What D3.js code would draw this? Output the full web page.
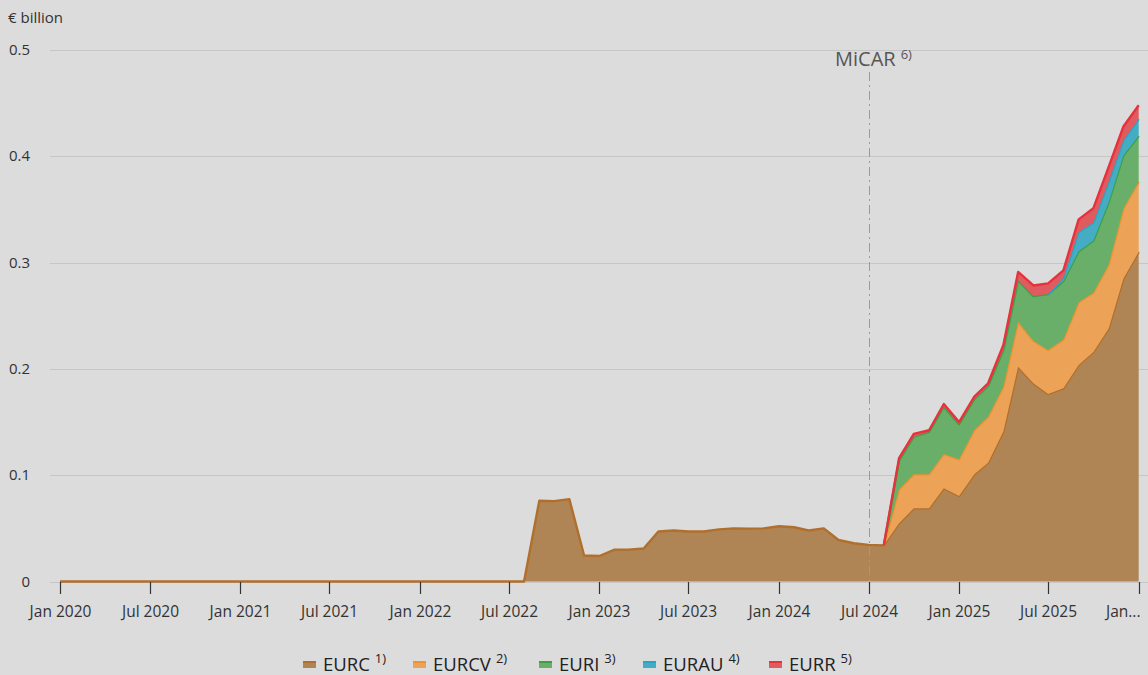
<!DOCTYPE html>
<html>
<head>
<meta charset="utf-8">
<script src="https://cdn.jsdelivr.net/npm/d3@7"></script>
<style>
  html, body { margin: 0; padding: 0; background: #dcdcdc; }
  svg { display: block; font-family: "Open Sans", "Noto Sans", sans-serif; }
</style>
</head>
<body>
<svg id="chart" width="1148" height="675"></svg>
<script>
// ---------- data (€ billion, monthly, first of month) ----------
const startMonth = "2020-01";
const endMonth = "2026-01";

const EURC = [
  0,0,0,0,0,0,0,0,0,0,0,0,                                   // 2020
  0,0,0,0,0,0,0,0,0,0,0,0,                                   // 2021
  0,0,0,0,0,0,0,0,0.076,0.0756,0.0775,0.0245,                // 2022
  0.024,0.030,0.030,0.031,0.047,0.048,0.047,0.047,0.049,0.050,0.0497,0.050, // 2023
  0.052,0.051,0.048,0.050,0.039,0.036,0.0345,0.034,0.0547,0.0688,0.0688,0.0877, // 2024
  0.0804,0.1008,0.1118,0.141,0.202,0.1865,0.1764,0.1817,0.2037,0.216,0.238,0.285, // 2025
  0.310                                                      // 2026
];
const EURCVStart = "2024-08";
const EURCV = [0,0.032,0.032,0.032,0.0323,0.0346,0.0417,0.0432,0.0423,0.0424,0.040,0.0414,0.046,0.059,0.0557,0.060,0.066,0.066];
const EURIStart = "2024-08";
const EURI = [0,0.027,0.0354,0.040,0.0444,0.033,0.029,0.029,0.0345,0.039,0.042,0.0526,0.055,0.048,0.049,0.059,0.050,0.043];
const EURAUStart = "2025-07";
const EURAU = [0,0.003,0.018,0.017,0.019,0.014,0.016];
const EURRStart = "2024-08";
const EURR = [0,0.0023,0.0026,0.0015,0.0026,0.002,0.0025,0.0025,0.0047,0.0078,0.010,0.010,0.007,0.012,0.0135,0.014,0.013,0.013];

const seriesNames = ["EURC","EURCV","EURI","EURAU","EURR"];
const seriesNotes = ["1)","2)","3)","4)","5)"];
const yTicks = [0,0.1,0.2,0.3,0.4,0.5];
const yTickLabels = ["0","0.1","0.2","0.3","0.4","0.5"];
const xTickLabels = ["Jan 2020","Jul 2020","Jan 2021","Jul 2021","Jan 2022","Jul 2022","Jan 2023","Jul 2023","Jan 2024","Jul 2024","Jan 2025","Jul 2025","Jan..."];
const xTickDates = ["2020-01","2020-07","2021-01","2021-07","2022-01","2022-07","2023-01","2023-07","2024-01","2024-07","2025-01","2025-07","2026-01"];
const yUnit = "€ billion";
const eventDate = "2024-07";
const eventLabel = "MiCAR";
const eventNote = "6)";

// ---------- styles ----------
const fills   = ["#b08555","#eca257","#6aaf69","#45adc3","#e05b60"];
const strokes = ["#b06f2c","#f0922f","#3e9f45","#27a5c6","#e6323c"];

const parse = d3.timeParse("%Y-%m");
const months = d3.timeMonth.range(parse(startMonth), d3.timeMonth.offset(parse(endMonth), 1));

const raw = { EURC: {start: startMonth, vals: EURC}, EURCV: {start: EURCVStart, vals: EURCV},
              EURI: {start: EURIStart, vals: EURI}, EURAU: {start: EURAUStart, vals: EURAU},
              EURR: {start: EURRStart, vals: EURR} };

const table = months.map((m, i) => {
  const row = { date: m };
  seriesNames.forEach(k => {
    const off = d3.timeMonth.count(parse(raw[k].start), m);
    row[k] = (off >= 0 && off < raw[k].vals.length) ? raw[k].vals[off] : null;
  });
  return row;
});

const svg = d3.select("#chart");
const x = d3.scaleTime().domain([parse(startMonth), parse(endMonth)]).range([60, 1138.7]);
const y = d3.scaleLinear().domain([0, 0.5]).range([581.5, 50]);

// gridlines
svg.append("g").selectAll("line").data(yTicks).join("line")
  .attr("x1", 50).attr("x2", 1148)
  .attr("y1", d => Math.round(y(d)) + 0.5).attr("y2", d => Math.round(y(d)) + 0.5)
  .attr("stroke", "#c6c6c6").attr("stroke-width", 1);

// y labels
svg.append("g").selectAll("text").data(yTicks).join("text")
  .attr("x", 30).attr("y", d => y(d)).attr("dy", "0.34em")
  .attr("text-anchor", "end").attr("font-size", 15).attr("fill", "#333")
  .text((d, i) => yTickLabels[i]);

svg.append("text").attr("x", 8).attr("y", 23).attr("font-size", 15).attr("fill", "#333").text(yUnit);

// stack
const stack = d3.stack().keys(seriesNames).value((d, k) => d[k] == null ? 0 : d[k]);
const layers = stack(table);

const gSeries = svg.append("g");
layers.forEach((layer, li) => {
  const key = layer.key;
  const defined = (d, i) => table[i][key] != null;
  const area = d3.area().defined(defined)
    .x((d, i) => x(table[i].date)).y0(d => y(d[0])).y1(d => y(d[1]));
  const line = d3.line().defined(defined)
    .x((d, i) => x(table[i].date)).y(d => y(d[1]));
  gSeries.append("path").attr("d", area(layer)).attr("fill", fills[li]);
  gSeries.append("path").attr("d", line(layer)).attr("fill", "none")
    .attr("stroke", strokes[li]).attr("stroke-width", 2.4).attr("stroke-linejoin", "round");
});

// x axis ticks and labels
const gx = svg.append("g");
xTickDates.forEach((d, i) => {
  const px = Math.round(x(parse(d))) + 0.5;
  gx.append("line").attr("x1", px).attr("x2", px).attr("y1", 582).attr("y2", 594)
    .attr("stroke", "#333").attr("stroke-width", 1.2);
  const last = i === xTickDates.length - 1;
  gx.append("text").attr("x", last ? px + 1 : px).attr("y", 617)
    .attr("text-anchor", last ? "end" : "middle")
    .attr("font-size", 15.5).attr("fill", "#333").text(xTickLabels[i]);
});

// event marker
const ex = Math.round(x(parse(eventDate))) + 0.5;
svg.append("line").attr("x1", ex).attr("x2", ex).attr("y1", 72).attr("y2", 581)
  .attr("stroke", "#9a9a9a").attr("stroke-width", 1).attr("stroke-dasharray", "9,4,2,4");
const et = svg.append("text").attr("x", 835).attr("y", 66).attr("font-size", 20).attr("fill", "#555");
et.append("tspan").text(eventLabel);
et.append("tspan").attr("dx", 5).attr("dy", -7).attr("font-size", 13).text(eventNote);

// legend
const legendX = [303, 413, 539, 643, 769];
const gl = svg.append("g");
seriesNames.forEach((k, i) => {
  const lx = legendX[i];
  gl.append("rect").attr("x", lx).attr("y", 662).attr("width", 13).attr("height", 6).attr("fill", fills[i]);
  gl.append("line").attr("x1", lx).attr("x2", lx + 13).attr("y1", 662).attr("y2", 662)
    .attr("stroke", strokes[i]).attr("stroke-width", 2);
  const t = gl.append("text").attr("x", lx + 20).attr("y", 671).attr("font-size", 18.5).attr("fill", "#222");
  t.append("tspan").text(k);
  t.append("tspan").attr("dx", 5).attr("dy", -8).attr("font-size", 13).text(seriesNotes[i]);
});
</script>
</body>
</html>
